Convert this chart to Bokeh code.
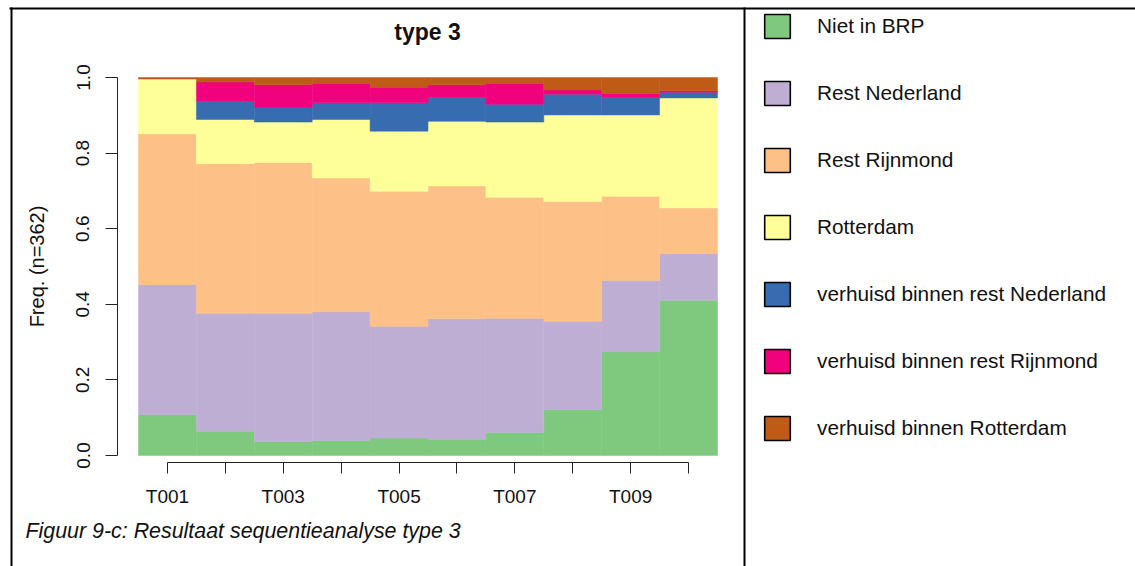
from bokeh.plotting import figure
from bokeh.models import (ColumnDataSource, FixedTicker, Label, Legend, LegendItem,
                          BoxAnnotation, PrintfTickFormatter, Range1d)
from bokeh.embed import file_html
from bokeh.resources import INLINE

# ---------------- data ----------------
periods = ["T001", "T002", "T003", "T004", "T005", "T006", "T007", "T008", "T009", "T010"]
states = ["Niet in BRP", "Rest Nederland", "Rest Rijnmond", "Rotterdam",
          "verhuisd binnen rest Nederland", "verhuisd binnen rest Rijnmond",
          "verhuisd binnen Rotterdam"]
colors = ["#7FC97F", "#BEAED4", "#FDC086", "#FFFF99", "#386CB0", "#F0027F", "#BF5B17"]

niet_in_brp      = [0.108, 0.064, 0.037, 0.040, 0.046, 0.043, 0.061, 0.122, 0.274, 0.411]
rest_nederland   = [0.344, 0.312, 0.339, 0.340, 0.296, 0.319, 0.302, 0.233, 0.189, 0.123]
rest_rijnmond    = [0.399, 0.396, 0.399, 0.354, 0.357, 0.351, 0.320, 0.317, 0.223, 0.121]
rotterdam        = [0.146, 0.117, 0.107, 0.155, 0.159, 0.171, 0.199, 0.229, 0.215, 0.291]
verh_rest_nl     = [0.000, 0.048, 0.040, 0.044, 0.075, 0.063, 0.047, 0.055, 0.046, 0.015]
verh_rest_rijn   = [0.000, 0.051, 0.059, 0.052, 0.041, 0.034, 0.056, 0.011, 0.011, 0.004]
verh_rotterdam   = [0.003, 0.012, 0.019, 0.015, 0.026, 0.019, 0.015, 0.033, 0.042, 0.035]

y_ticks = [0.0, 0.2, 0.4, 0.6, 0.8, 1.0]
n_seq = 362

series = [niet_in_brp, rest_nederland, rest_rijnmond, rotterdam,
          verh_rest_nl, verh_rest_rijn, verh_rotterdam]

# ---------------- geometry helpers (canvas pixels -> data) ----------------
W, H = 1135, 566
BAR_L = 138.0      # x of left edge of first bar
BAR_PX = 57.9      # px per bar
Y0 = 455.0         # y of value 0
YS = 378.0         # px per unit


def dx(px):
    return 0.5 + (px - BAR_L) / BAR_PX


def dy(py):
    return (Y0 - py) / YS


xpos = list(range(1, len(periods) + 1))
data = {"x": xpos}
for name, vals in zip(states, series):
    data[name] = vals
source = ColumnDataSource(data)

p = figure(width=W, height=H, output_backend="svg", toolbar_location=None,
           x_range=Range1d(dx(0), dx(W)), y_range=Range1d(dy(H), dy(0)),
           min_border=0)
p.outline_line_color = None
p.grid.visible = False
p.background_fill_color = "white"
p.border_fill_color = "white"

p.vbar_stack(states, x="x", width=1.0, source=source, color=colors, line_width=0.5)

# ---------------- axes ----------------
FONT = "Liberation Sans"
xa = p.xaxis[0]
xa.fixed_location = dy(462)
xa.ticker = FixedTicker(ticks=xpos)
xa.major_label_overrides = {x: (lab if i % 2 == 0 else "") for i, (x, lab) in enumerate(zip(xpos, periods))}
xa.bounds = (xpos[0], xpos[-1])
xa.major_tick_in = 0
xa.major_tick_out = 11
xa.minor_tick_line_color = None
xa.axis_line_color = "#222222"
xa.major_tick_line_color = "#222222"
xa.major_label_standoff = 12
xa.major_label_text_font = FONT
xa.major_label_text_font_size = "19px"
xa.major_label_text_color = "#111111"

ya = p.yaxis[0]
ya.fixed_location = dx(117)
ya.ticker = FixedTicker(ticks=y_ticks)
ya.formatter = PrintfTickFormatter(format="%.1f")
ya.bounds = (0, 1)
ya.major_tick_in = 0
ya.major_tick_out = 12
ya.minor_tick_line_color = None
ya.axis_line_color = "#222222"
ya.major_tick_line_color = "#222222"
ya.major_label_orientation = "vertical"
ya.major_label_standoff = 16
ya.major_label_text_font = FONT
ya.major_label_text_font_size = "19px"
ya.major_label_text_color = "#111111"
ya.axis_label = f"Freq. (n={n_seq})"
ya.axis_label_text_font = FONT
ya.axis_label_text_font_style = "normal"
ya.axis_label_text_font_size = "20px"
ya.axis_label_text_color = "#111111"
ya.axis_label_standoff = 26

# ---------------- title & caption ----------------
p.add_layout(Label(x=dx(427), y=dy(31), text="type 3", text_align="center",
                   text_baseline="middle", text_font=FONT, text_font_style="bold",
                   text_font_size="23px", text_color="#111111"))
p.add_layout(Label(x=dx(25), y=dy(530), text="Figuur 9-c: Resultaat sequentieanalyse type 3",
                   text_align="left", text_baseline="middle", text_font=FONT,
                   text_font_style="italic", text_font_size="21.4px", text_color="#111111"))

# ---------------- frame lines ----------------
for (l, r, t, b) in [(9, W, 7, 9), (10, 12, 7, H), (743, 745, 7, H)]:
    p.add_layout(BoxAnnotation(left=dx(l), right=dx(r), top=dy(t), bottom=dy(b),
                               fill_color="black", fill_alpha=1.0, line_color=None,
                               level="overlay"))

# ---------------- legend ----------------
nan = float("nan")
items = []
for name, c in zip(states, colors):
    proxy = ColumnDataSource(dict(x=[nan], top=[nan]))
    r = p.vbar(x="x", top="top", width=1.0, source=proxy,
               fill_color=c, line_color="black", line_width=1.6)
    items.append(LegendItem(label=name, renderers=[r]))

legend = Legend(items=items, location=(761, 123), orientation="vertical",
                glyph_width=32, glyph_height=30, spacing=37, padding=0, margin=0,
                label_standoff=24, label_text_font=FONT, label_text_font_size="20.8px",
                label_text_color="#111111", border_line_color=None,
                background_fill_alpha=0.0, label_height=30)
p.add_layout(legend, "center")

open("out.html", "w").write(file_html(p, INLINE))
